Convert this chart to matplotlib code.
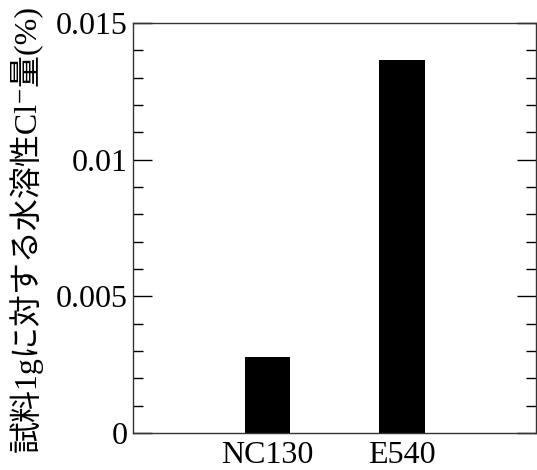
import matplotlib

matplotlib.use("Agg")

import matplotlib.pyplot as plt
from matplotlib.ticker import MultipleLocator

samples = ["NC130", "E540"]
chloride_pct = [0.0028, 0.01365]

SERIF_JP = ["Liberation Serif", "Noto Sans CJK JP", "DejaVu Sans"]

plt.rcParams["font.family"] = SERIF_JP

fig = plt.figure(figsize=(5.37, 4.70), dpi=100)
ax = fig.add_axes([0.2477, 0.0787, 0.7505, 0.872])

positions = list(range(len(samples)))
ax.bar(positions, chloride_pct, width=0.34, color="black")

ax.set_xlim(-1, len(samples))
ax.set_ylim(0, 0.015)
ax.set_xticks(positions)
ax.set_xticklabels(samples, fontsize=23)
ax.yaxis.set_major_locator(MultipleLocator(0.005))
ax.yaxis.set_minor_locator(MultipleLocator(0.001))
ax.set_yticks([0, 0.005, 0.01, 0.015])
ax.set_yticklabels(["0", "0.005", "0.01", "0.015"], fontsize=23)

ax.tick_params(axis="y", which="major", direction="in", length=14, width=1,
               right=True, pad=4)
ax.tick_params(axis="y", which="minor", direction="in", length=7, width=1,
               right=True)
ax.tick_params(axis="x", length=0, pad=6)

for spine in ax.spines.values():
    spine.set_linewidth(1)
    spine.set_color("#333333")

ax.set_ylabel("試料1gに対する水溶性Cl\u207b量(%)", fontsize=23,
              family=SERIF_JP, labelpad=9)

fig.savefig("out.png", dpi=100)
